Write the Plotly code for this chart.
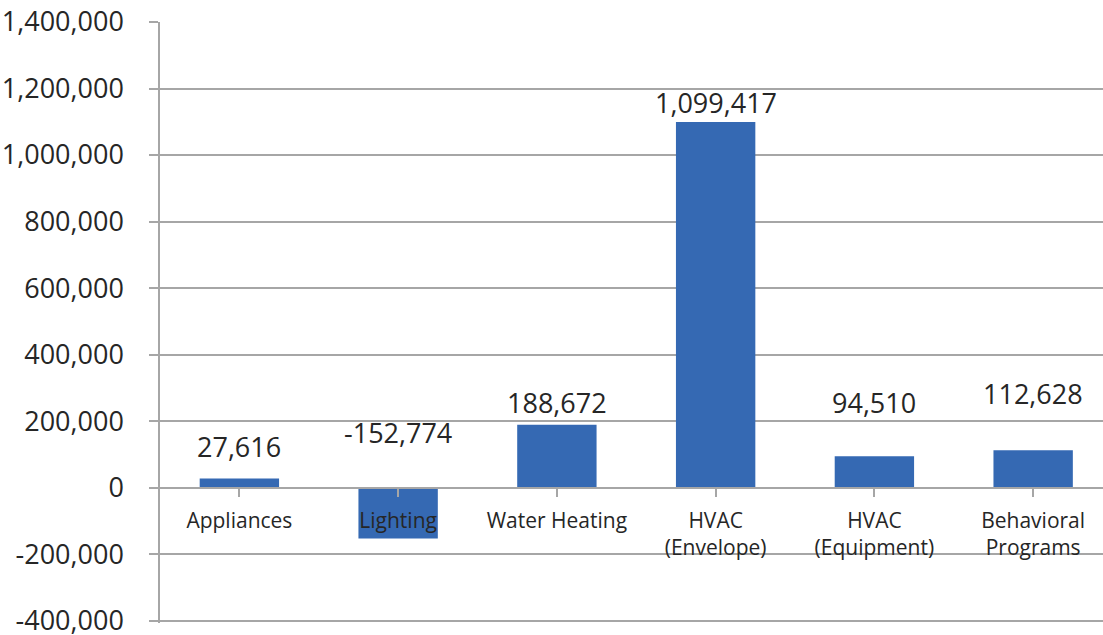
import plotly.graph_objects as go

categories = ["Appliances", "Lighting", "Water Heating", "HVAC<br>(Envelope)", "HVAC<br>(Equipment)", "Behavioral<br>Programs"]
values = [27616, -152774, 188672, 1099417, 94510, 112628]
y_ticks = [-400000, -200000, 0, 200000, 400000, 600000, 800000, 1000000, 1200000, 1400000]

# label pixel offsets (layout only)
label_shift = [32, 55, 22, 19, 54, 57]

ymin, ymax = y_ticks[0], y_ticks[-1]
FONT = "Open Sans"
TXT = "#262626"
GRID = "#a6a6a6"

fig = go.Figure()
fig.add_trace(go.Bar(
    x=list(range(len(categories))), y=values,
    marker=dict(color="#3569b3", line=dict(width=0)),
    width=0.5,
    hoverinfo="skip",
))

for i, v in enumerate(values):
    fig.add_annotation(
        x=i, y=max(v, 0), text=f"{v:,}", showarrow=False,
        yanchor="middle", yshift=label_shift[i],
        font=dict(family=FONT, size=27, color=TXT),
    )

pad = (ymax - ymin) * 0.004
fig.update_layout(
    width=1103, height=635,
    margin=dict(l=160, r=0, t=22, b=12, autoexpand=False),
    paper_bgcolor="white", plot_bgcolor="white",
    showlegend=False,
    font=dict(family=FONT, color=TXT),
    xaxis=dict(
        range=[-0.5, 5.44],
        tickmode="array", tickvals=list(range(len(categories))), ticktext=categories,
        tickson="boundaries", ticks="outside", ticklen=9, tickcolor=GRID, tickwidth=1.5,
        showline=True, linecolor=GRID, linewidth=1.5,
        showgrid=False, zeroline=False,
        anchor="free", position=-(ymin - pad) / (ymax - ymin + pad),
        tickfont=dict(family=FONT, size=21, color=TXT),
        ticklabelstandoff=5,
        automargin=False,
    ),
    yaxis=dict(
        range=[ymin - pad, ymax],
        tickmode="array", tickvals=y_ticks, ticktext=[f"{t:,}" for t in y_ticks],
        showgrid=True, gridcolor=GRID, gridwidth=1.5,
        zeroline=False,
        showline=True, linecolor=GRID, linewidth=1.5,
        ticks="outside", ticklen=9, tickcolor=GRID, tickwidth=1.5,
        tickfont=dict(family=FONT, size=27, color=TXT),
        ticklabelstandoff=20,
        ticklabeloverflow="allow",
        automargin=False,
    ),
)

fig.write_html(
    "out.html",
    config={"displayModeBar": False},
    post_script="document.body.style.margin='0px';document.body.style.overflow='hidden';",
)
